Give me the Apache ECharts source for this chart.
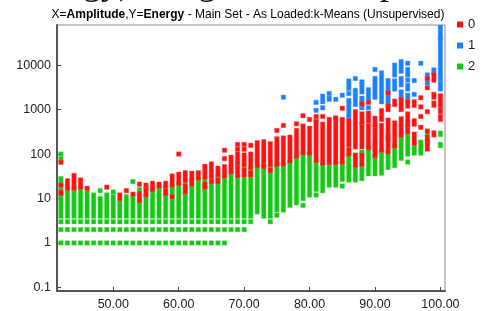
<!DOCTYPE html>
<html>
<head>
<meta charset="utf-8">
<script src="https://cdn.jsdelivr.net/npm/echarts@6/dist/echarts.min.js"></script>
<style>
    html, body { margin: 0; padding: 0; background: #fff; }
    #main { width: 504px; height: 311px; }
</style>
</head>
<body>
<div id="main"></div>
<script>
// cluster names as shown in the legend
var clusterNames = ['0', '1', '2'];

// amplitudes that have isolated points at energy 1, 2 and 3 (cluster 2)
var energy1Amps = [42, 43, 44, 45, 46, 47, 48, 49, 50, 51, 52, 53, 54, 55, 56, 57, 58, 59, 60, 61, 62, 63, 64, 65, 66, 67];
var energy2Amps = [42, 43, 44, 45, 46, 47, 48, 49, 50, 51, 52, 53, 54, 55, 56, 57, 58, 59, 60, 61, 62, 63, 64, 65, 66, 67, 68, 69, 70];
var energy3Amps = [42, 43, 44, 45, 46, 47, 48, 49, 50, 51, 52, 53, 54, 55, 56, 57, 58, 59, 60, 61, 62, 63, 64, 65, 66, 67, 68, 69, 70, 71, 74];

// runs of points: [amplitude, lowest energy, highest energy]
var cluster2Runs = [
    [42, 4, 28], [42, 78, 78], [42, 100, 100], [43, 4, 16], [44, 4, 17], [45, 4, 17], [46, 4, 15],
    [47, 4, 12], [48, 4, 10], [48, 15, 15], [49, 4, 12], [50, 4, 11], [50, 14, 14], [51, 4, 9],
    [52, 4, 11], [53, 4, 11], [53, 24, 24], [54, 4, 10], [54, 16, 16], [55, 4, 11], [55, 17, 17],
    [56, 4, 15], [57, 4, 18], [58, 4, 18], [59, 4, 19], [60, 4, 21], [61, 4, 26], [62, 4, 26],
    [63, 4, 28], [64, 4, 18], [64, 23, 27], [65, 4, 22], [65, 27, 30], [66, 4, 22], [66, 28, 32],
    [67, 4, 28], [68, 4, 36], [69, 4, 31], [69, 54, 62], [70, 4, 31], [70, 46, 56], [71, 4, 33],
    [71, 40, 48], [72, 5, 50], [73, 4, 50], [73, 58, 68], [74, 4, 40], [74, 45, 55], [75, 4.2, 4.2],
    [75, 5.5, 55], [76, 5.5, 55], [77, 7, 65], [78, 8, 85], [79, 7, 7], [79, 10, 100], [80, 12, 100],
    [81, 12, 12], [81, 16, 65], [82, 15, 60], [83, 20, 60], [84, 20, 62], [85, 19, 19], [85, 27, 64],
    [86, 26, 62], [86, 75, 95], [87, 26, 55], [87, 80, 95], [88, 28, 57], [88, 90, 110], [89, 36, 135],
    [90, 36, 90], [90, 130, 170], [91, 37, 120], [92, 50, 110], [92, 220, 250], [93, 55, 150],
    [94, 80, 260], [95, 66, 66], [95, 100, 280], [96, 105, 170], [97, 105, 186], [98, 180, 200],
    [98, 280, 300], [100, 155, 165], [100, 275, 295]
];

var cluster0Runs = [
    [42, 13, 14], [42, 20, 20], [42, 65, 65], [43, 17, 25], [44, 17, 33], [45, 18, 26], [46, 17, 17],
    [49, 18, 18], [51, 10, 12], [52, 15, 15], [53, 12.5, 12.5], [54, 9, 13], [54, 21, 21], [55, 12, 16],
    [55, 20, 20], [56, 16, 22], [57, 19, 21], [58, 13, 15], [58, 19, 22], [59, 11, 11], [59, 20, 32],
    [60, 22, 35], [60, 100, 100], [61, 14, 19], [61, 26, 38], [62, 21, 37], [63, 29, 38], [64, 18, 21],
    [64, 30, 53], [65, 24, 25], [65, 31, 60], [66, 24, 26], [66, 34, 48], [67, 32, 52], [67, 79, 79],
    [67, 122, 122], [68, 40, 85], [69, 33, 52], [69, 64, 100], [69, 128, 128], [69, 164, 164],
    [70, 34, 44], [70, 58, 95], [70, 128, 128], [70, 164, 164], [71, 34, 38], [71, 50, 100],
    [71, 157, 157], [72, 55, 180], [73, 52, 56], [73, 70, 190], [74, 42, 44], [74, 58, 170],
    [75, 58, 220], [75, 340, 340], [76, 60, 230], [76, 440, 440], [77, 70, 240], [78, 90, 340],
    [78, 480, 480], [79, 107, 424], [79, 730, 730], [80, 105, 380], [80, 600, 600], [81, 72, 540],
    [81, 700, 700], [82, 62, 470], [82, 700, 700], [83, 65, 600], [84, 64, 600], [84, 650, 650],
    [85, 66, 600], [85, 1070, 1070], [86, 100, 125], [86, 160, 560], [87, 56, 94], [87, 145, 900],
    [88, 59, 94], [88, 145, 470], [88, 520, 800], [88, 1350, 1350], [89, 140, 440], [89, 560, 830],
    [89, 1450, 1450], [90, 92, 420], [90, 440, 640], [91, 122, 440], [91, 600, 950], [92, 112, 580],
    [92, 1000, 1200], [92, 2400, 2400], [93, 152, 500], [93, 1300, 1550], [94, 265, 620],
    [94, 1000, 1700], [95, 320, 400], [95, 440, 800], [95, 1200, 1500], [96, 175, 280], [96, 470, 560],
    [96, 1250, 1500], [97, 400, 400], [97, 700, 700], [97, 1150, 1150], [97, 1850, 1850],
    [98, 130, 175], [98, 205, 240], [98, 330, 330], [98, 900, 900], [98, 3100, 3100], [98, 5000, 5000],
    [99, 270, 300], [99, 1250, 1400], [99, 1900, 2200], [99, 4600, 6000], [100, 600, 700],
    [100, 900, 1000], [100, 1250, 2050]
];

var cluster1Runs = [
    [76, 1900, 1900], [81, 560, 560], [81, 960, 960], [81, 1450, 1450], [82, 1100, 1100],
    [82, 1500, 2000], [83, 1700, 1800], [83, 2300, 2300], [84, 1700, 1700], [85, 2100, 2100],
    [86, 700, 1600], [86, 2300, 2300], [86, 3000, 3700], [86, 4400, 4400], [87, 1300, 2300],
    [87, 2700, 2700], [87, 5000, 5000], [88, 1100, 1100], [88, 1250, 1800], [88, 2500, 3500],
    [88, 4200, 4200], [89, 1100, 1100], [89, 1700, 2800], [90, 1900, 5000], [90, 8000, 8000],
    [91, 1500, 6700], [92, 1250, 4500], [93, 2900, 4400], [93, 6000, 10000], [94, 1800, 2500],
    [94, 3600, 5000], [94, 7300, 12000], [95, 1650, 2100], [95, 2900, 3500], [95, 4600, 4600],
    [95, 6000, 8000], [95, 11000, 11000], [96, 2200, 2200], [96, 4500, 4500], [97, 11000, 11000],
    [98, 4000, 6000], [99, 6800, 7800], [100, 2900, 3800], [100, 4800, 4800], [100, 5700, 39000],
    [100, 41000, 72000]
];

// axis ticks
var xTicks = [50, 60, 70, 80, 90, 100];
var yTicks = [0.1, 1, 10, 100, 1000, 10000];

var colors = { '0': '#ff1010', '1': '#1a80ff', '2': '#14c814' };
var halos = { '0': 'rgba(255,90,90,0.4)', '1': 'rgba(90,160,255,0.4)', '2': 'rgba(90,220,90,0.4)' };

// isolated low energy rows become runs of one point
var lowRuns = [];
energy1Amps.forEach(function (a) { lowRuns.push([a, 1, 1]); });
energy2Amps.forEach(function (a) { lowRuns.push([a, 2, 2]); });
energy3Amps.forEach(function (a) { lowRuns.push([a, 3, 3]); });

var MARK = 4.5;

function renderRun(params, api) {
    var top = api.coord([api.value(0), api.value(2)]);
    var bottom = api.coord([api.value(0), api.value(1)]);
    var name = params.seriesName;
    return {
        type: 'rect',
        shape: {
            x: top[0] - MARK / 2,
            y: top[1] - MARK / 2,
            width: MARK,
            height: bottom[1] - top[1] + MARK
        },
        style: {
            fill: colors[name],
            stroke: halos[name],
            lineWidth: 1
        }
    };
}

function runSeries(name, data) {
    return {
        name: name,
        type: 'custom',
        renderItem: renderRun,
        encode: { x: 0, y: [1, 2] },
        itemStyle: { color: colors[name] },
        clip: true,
        silent: true,
        animation: false,
        data: data
    };
}

// serif heading that is cut off by the top edge
var headFont = '36px "Liberation Serif", "Times New Roman", serif';

var myChart = echarts.init(document.getElementById('main'), null, { width: 504, height: 311 });

var option = {
    animation: false,
    textStyle: { fontFamily: 'Liberation Sans, Arial, sans-serif' },
    grid: {
        left: 57,
        top: 25,
        right: 59,
        bottom: 17,
        show: true,
        borderColor: '#8a8a8a',
        borderWidth: 1
    },
    legend: {
        orient: 'vertical',
        left: 452,
        top: 13,
        itemWidth: 6,
        itemHeight: 6,
        itemGap: 8,
        textStyle: { fontSize: 13, color: '#222', lineHeight: 13 },
        data: [
            { name: '0', icon: 'rect' },
            { name: '1', icon: 'rect' },
            { name: '2', icon: 'rect' }
        ]
    },
    xAxis: {
        type: 'value',
        min: 41.4,
        max: 100.7,
        splitLine: { show: false },
        axisLine: { lineStyle: { color: '#555', width: 2 } },
        axisTick: { inside: true, length: 4, customValues: xTicks, lineStyle: { color: '#444' } },
        axisLabel: {
            customValues: xTicks,
            margin: 7,
            fontSize: 12.5,
            color: '#222',
            formatter: function (v) { return v.toFixed(2); }
        }
    },
    yAxis: {
        type: 'log',
        min: 0.083,
        max: 80000,
        splitLine: { show: false },
        axisLine: { lineStyle: { color: '#555', width: 2 } },
        axisTick: { inside: true, length: 4, customValues: yTicks, lineStyle: { color: '#444' } },
        axisLabel: {
            customValues: yTicks,
            margin: 6,
            fontSize: 12.5,
            color: '#222',
            formatter: function (v) { return String(v); }
        }
    },
    graphic: [
        {
            type: 'text', x: 140, y: -15,
            style: { text: 'Energy),', font: headFont, fill: '#111', align: 'right', verticalAlign: 'middle' }
        },
        {
            type: 'text', x: 216, y: -15,
            style: { text: 'using', font: headFont, fill: '#111', align: 'right', verticalAlign: 'middle' }
        },
        {
            type: 'text', x: 380, y: -15,
            style: { text: 'plot', font: headFont, fill: '#111', align: 'left', verticalAlign: 'middle' }
        },
        {
            type: 'text',
            x: 248,
            y: 14.5,
            style: {
                text: '{n|X=}{b|Amplitude}{n|,Y=}{b|Energy}{n| - Main Set - As Loaded:k-Means (Unsupervised)}',
                align: 'center',
                verticalAlign: 'middle',
                rich: {
                    n: { fontSize: 12, fontFamily: 'Liberation Sans, Arial', color: '#222' },
                    b: { fontSize: 12, fontFamily: 'Liberation Sans, Arial', color: '#111', fontWeight: 'bold' }
                }
            }
        }
    ],
    series: [
        runSeries('2', lowRuns.concat(cluster2Runs)),
        runSeries('1', cluster1Runs),
        runSeries('0', cluster0Runs)
    ]
};

myChart.setOption(option, false);
</script>
</body>
</html>
